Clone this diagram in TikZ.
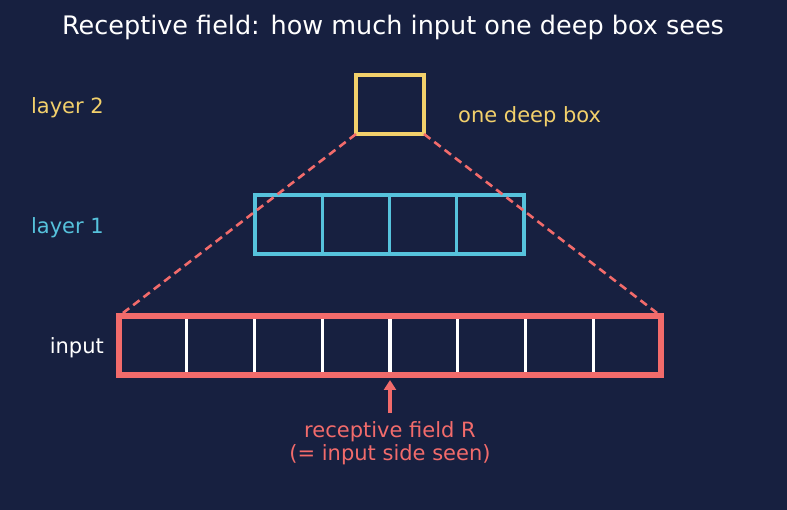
\documentclass[tikz,border=0pt]{standalone}
\usepackage{fontspec}
\setmainfont{DejaVu Sans}
\usetikzlibrary{arrows.meta}
\definecolor{bg}{HTML}{172040}
\definecolor{cyel}{HTML}{F2D06B}
\definecolor{ccyan}{HTML}{56C2DC}
\definecolor{cred}{HTML}{F26B6B}
\tikzset{
  lbl/.style={font=\fontsize{21}{25}\selectfont, anchor=east, inner sep=0pt},
  cell/.style={draw, minimum height=59pt, inner sep=0pt, outer sep=0pt},
}
\begin{document}
\begin{tikzpicture}[x=1pt,y=-1pt]
\fill[bg] (0,0) rectangle (787,510);
\useasboundingbox (0,0) rectangle (787,510);
\node[white, font=\fontsize{25.5}{30}\selectfont] (title) at (393,27) {Receptive field: how much input one deep box sees};
% labels
\node[lbl, text=cyel] (l2) at (104,107.5) {layer 2};
\node[lbl, text=ccyan] (l1) at (104,227.5) {layer 1};
\node[lbl, text=white] (lin) at (104,347.5) {input};
\node[text=cyel, font=\fontsize{21}{25}\selectfont, anchor=west, inner sep=0pt] (odb) at (458,116.5) {one deep box};
% layer 2 box
\node[cell, draw=cyel, line width=3.2pt, minimum width=68pt] (top) at (390,104.5) {};
% layer 1
\foreach \i in {0,...,3} {
  \node[cell, draw=ccyan, line width=3.2pt, minimum width=67.25pt] (m\i) at ({255+67.25*\i+33.625},224.5) {};
}
% input
\foreach \i in {1,...,7} {
  \draw[white, line width=3.2pt] ({119+67.75*\i},316) -- ({119+67.75*\i},375);
}
\draw[cred, line width=5.5pt] (119,316) rectangle (661,375);
\coordinate (inL) at (123,313);
\coordinate (inR) at (657,313);
\draw[cred, line width=2.6pt, dash pattern=on 8pt off 5pt] (top.south west) -- (inL);
\draw[cred, line width=2.6pt, dash pattern=on 8pt off 5pt] (top.south east) -- (inR);
% arrow
\coordinate (arrS) at (390,413);
\coordinate (arrE) at (390,380);
\draw[cred, line width=3.2pt, -{Triangle[length=10pt,width=12pt]}] (arrS) -- (arrE);
\node[text=cred, font=\fontsize{21}{23}\selectfont, align=center] (rf) at (390,443.5) {receptive field R\\(= input side seen)};
\end{tikzpicture}
\end{document}
